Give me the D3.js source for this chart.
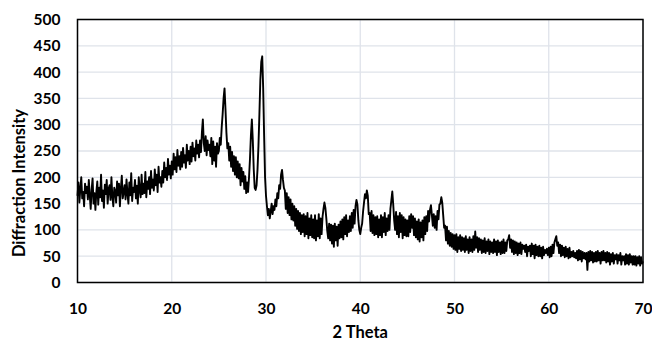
<!DOCTYPE html>
<html><head><meta charset="utf-8">
<script src="https://cdn.jsdelivr.net/npm/d3@7"></script>
<style>body{margin:0;background:#fff}svg{display:block}text{font-family:Lato,"Open Sans",sans-serif;font-weight:bold;fill:#000}</style>
</head><body><svg id="c" width="652" height="341"></svg>
<script>
const thetaStart = 10, thetaStep = 0.1;
const intensity = [
165,190,152,178,200,160,172,145,188,170,
182,158,195,166,140,176,198,150,170,138,
172,192,148,180,162,205,155,175,142,186,
168,195,150,178,185,157,200,163,145,180,
174,152,192,166,188,145,179,203,160,172,
185,158,196,170,150,190,166,208,155,180,
172,195,160,184,150,200,176,162,205,168,
188,170,210,162,192,178,200,168,212,180,
196,175,215,185,205,172,220,190,200,182,
212,190,228,200,218,195,235,205,222,198,
230,205,245,215,238,210,252,222,240,215,
248,220,256,228,242,218,262,232,250,225,
258,230,266,240,255,232,270,245,262,238,
270,248,285,310,265,250,278,242,270,252,
262,240,275,225,268,232,258,220,265,245,
250,275,262,295,320,350,369,330,285,255,
265,232,258,220,248,212,240,205,238,200,
230,198,225,185,218,192,210,178,202,170,
190,172,200,235,280,310,270,215,180,176,
185,215,260,320,385,420,430,370,280,200,
165,145,128,140,122,135,150,130,145,138,
158,145,170,160,185,178,205,214,195,180,
175,140,170,132,162,128,158,120,150,118,
145,108,140,102,136,98,132,92,128,96,
130,88,126,92,132,84,122,90,128,86,
120,84,128,80,118,88,130,84,122,92,
125,140,152,142,122,98,84,112,80,110,
74,108,68,112,80,106,70,110,84,116,
86,120,82,124,92,128,88,118,96,126,
98,132,104,138,112,145,157,148,118,100,
92,104,112,135,152,168,160,175,165,130,
132,98,136,94,128,90,124,92,126,86,
120,90,128,86,124,96,132,90,122,98,
128,100,140,156,173,148,118,100,134,92,
126,86,132,96,128,84,124,90,120,88,
118,88,126,96,130,104,126,90,122,86,
116,82,120,78,114,86,118,80,124,92,
126,98,136,116,138,147,128,108,130,104,
126,100,136,120,148,150,162,152,128,104,
108,80,106,74,98,70,94,68,92,64,
90,62,92,58,86,64,90,60,86,62,
84,58,88,62,82,56,86,60,82,58,
88,62,97,66,86,58,84,62,82,56,
80,58,84,56,78,60,82,54,78,58,
76,56,82,58,78,52,80,58,76,54,
78,56,82,56,76,60,80,82,90,66,
82,58,80,54,78,56,76,52,74,56,
76,54,72,64,70,58,72,50,68,60,
70,50,74,54,70,46,72,52,68,50,
70,50,66,46,68,52,62,56,64,52,
66,48,68,50,72,56,76,82,88,70,
76,56,72,50,70,52,66,48,68,50,
64,46,66,48,58,50,60,48,56,46,
60,42,62,44,60,40,58,46,56,44,
56,24,58,40,60,42,58,38,56,40,
58,40,60,42,56,36,58,42,60,42,
56,38,58,40,56,34,54,40,56,36,
52,44,54,36,52,42,56,34,50,42,
50,34,54,36,52,34,54,38,50,34,
50,34,50,32,48,36,50,32,48,36,
40];
const xTicks = [10,20,30,40,50,60,70];
const yTicks = [0,50,100,150,200,250,300,350,400,450,500];
const xTitle = "2 Theta", yTitle = "Diffraction Intensity";

const data = intensity.map((v,i)=>({t: +(thetaStart + i*thetaStep).toFixed(2), v}));
const svg = d3.select("#c");
const L = 77.5, R = 643, T = 19.5, B = 282.5;
const x = d3.scaleLinear().domain([10,70]).range([L,R]);
const y = d3.scaleLinear().domain([0,500]).range([B,T]);

svg.append("g").selectAll("line").data(yTicks).join("line")
  .attr("x1",L).attr("x2",R).attr("y1",d=>y(d)).attr("y2",d=>y(d))
  .attr("stroke","#dfe3ea").attr("stroke-width",1.3);
svg.append("g").selectAll("line").data(xTicks).join("line")
  .attr("y1",T).attr("y2",B).attr("x1",d=>x(d)).attr("x2",d=>x(d))
  .attr("stroke","#dfe3ea").attr("stroke-width",1.3);

const xa = svg.append("g").attr("transform",`translate(0,${B})`)
  .call(d3.axisBottom(x).tickValues(xTicks).tickSize(0).tickPadding(20).tickFormat(d3.format("d")));
const ya = svg.append("g").attr("transform",`translate(${L},0)`)
  .call(d3.axisLeft(y).tickValues(yTicks).tickSize(0).tickPadding(17).tickFormat(d3.format("d")));
[xa,ya].forEach(a=>{a.select(".domain").remove();a.selectAll("text").attr("font-size",15.5).attr("font-family","Lato").attr("font-weight","bold").attr("fill","#000");});

svg.append("path").datum(data)
  .attr("fill","none").attr("stroke","#000").attr("stroke-width",1.9).attr("stroke-linejoin","round")
  .attr("d", d3.line().x(d=>x(d.t)).y(d=>y(d.v)));

svg.append("rect").attr("x",L).attr("y",T).attr("width",R-L).attr("height",B-T)
  .attr("fill","none").attr("stroke","#000").attr("stroke-width",1.5);

svg.append("text").attr("x",(L+R)/2).attr("y",338).attr("text-anchor","middle")
  .attr("font-size",16.5).text(xTitle);
svg.append("text").attr("transform","translate(25,183) rotate(-90)").attr("text-anchor","middle")
  .attr("font-size",16.5).text(yTitle);
</script></body></html>
